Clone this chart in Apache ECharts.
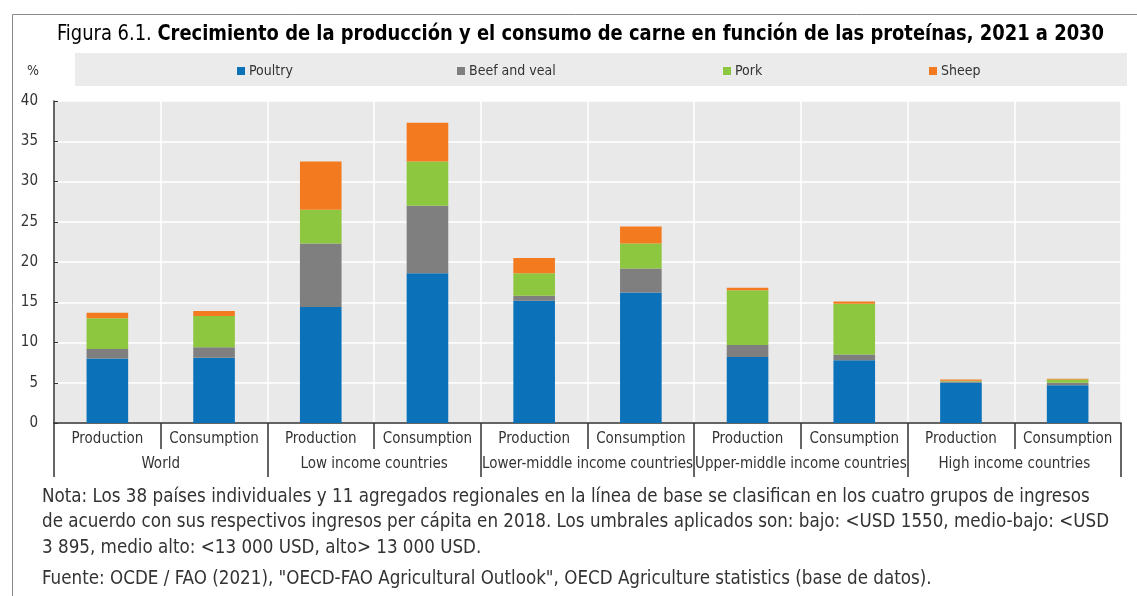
<!DOCTYPE html>
<html>
<head>
<meta charset="utf-8">
<script src="https://cdn.jsdelivr.net/npm/echarts@6/dist/echarts.min.js"></script>
<style>
html,body{margin:0;padding:0;background:#fff;}
#c{width:1137px;height:596px;}
</style>
</head>
<body>
<div id="c"></div>
<script>
// ---- data ----
var categories = ['Production','Consumption','Production','Consumption','Production','Consumption','Production','Consumption','Production','Consumption'];
var groups = ['World','Low income countries','Lower-middle income countries','Upper-middle income countries','High income countries'];
var seriesNames = ['Poultry','Beef and veal','Pork','Sheep'];
var poultry = [8.0, 8.1, 14.4, 18.6, 15.2, 16.2, 8.2, 7.8, 5.0, 4.7];
var beef    = [1.2, 1.3, 7.9, 8.4, 0.6, 3.0, 1.5, 0.7, 0.15, 0.3];
var pork    = [3.8, 3.9, 4.2, 5.5, 2.8, 3.1, 6.8, 6.3, 0.1, 0.4];
var sheep   = [0.7, 0.6, 6.0, 4.8, 1.9, 2.1, 0.3, 0.3, 0.15, 0.1];
var yTicks = [0,5,10,15,20,25,30,35,40];
var titleNormal = 'Figura 6.1. ';
var titleBold = 'Crecimiento de la producción y el consumo de carne en función de las proteínas, 2021 a 2030';
var noteLines = [
  'Nota: Los 38 países individuales y 11 agregados regionales en la línea de base se clasifican en los cuatro grupos de ingresos',
  'de acuerdo con sus respectivos ingresos per cápita en 2018. Los umbrales aplicados son: bajo: <USD 1550, medio-bajo: <USD',
  '3 895, medio alto: <13 000 USD, alto> 13 000 USD.'
];
var sourceLine = 'Fuente: OCDE / FAO (2021), "OECD-FAO Agricultural Outlook", OECD Agriculture statistics (base de datos).';

// ---- styling ----
var FONT = '"DejaVu Sans Condensed", "Liberation Sans Narrow", sans-serif';
var colors = ['#0b72ba', '#7f7f7f', '#8dc63f', '#f47a20'];
var values = [poultry, beef, pork, sheep];
var legendLeft = [237, 457, 723, 929];

var chart = echarts.init(document.getElementById('c'), null, {renderer:'canvas'});

var legends = seriesNames.map(function(n, i){
  return {
    data:[n], left: legendLeft[i], top: 64, icon:'rect', itemWidth:8, itemHeight:8,
    padding:0, textStyle:{fontFamily:FONT, fontSize:14, color:'#333', padding:[0,0,0,-1]},
    selectedMode:false
  };
});

var series = seriesNames.map(function(n, i){
  return {
    name:n, type:'bar', stack:'total', data: values[i], barWidth:'39%',
    itemStyle:{color: colors[i]}, xAxisIndex:0, yAxisIndex:0
  };
});

var graphics = [
  {type:'rect', shape:{x:12.5, y:14.5, width:1200, height:700}, style:{fill:'none', stroke:'#8a8a8a', lineWidth:1}, z:-10},
  {type:'rect', shape:{x:75, y:53, width:1052, height:33}, style:{fill:'#ebebeb'}, z:-10},
  {type:'text', x:27, y:71, style:{text:'%', font:'14px ' + FONT, fill:'#333', textVerticalAlign:'middle'}},
  {type:'text', x:57, y:34, scaleX:0.905, style:{
    text:'{a|' + titleNormal + '}{b|' + titleBold + '}',
    rich:{a:{fontFamily:FONT, fontSize:22, color:'#333'}, b:{fontFamily:FONT, fontSize:22, fontWeight:'bold', color:'#111'}},
    verticalAlign:'middle'
  }}
];
var noteY = [497, 522, 548];
noteLines.forEach(function(t, i){
  graphics.push({type:'text', x:42, y:noteY[i], scaleX:0.98, style:{text:t, font:'19px ' + FONT, fill:'#333', textVerticalAlign:'middle'}});
});
graphics.push({type:'text', x:42, y:579, scaleX:0.98, style:{text:sourceLine, font:'19px ' + FONT, fill:'#333', textVerticalAlign:'middle'}});

var option = {
  animation:false,
  backgroundColor:'#fff',
  legend: legends,
  grid:{left:54, right:16, top:101, bottom:173, show:true, backgroundColor:'#e9e9e9', borderWidth:0, containLabel:false},
  xAxis:[
    {type:'category', data:categories, position:'bottom',
     axisLine:{show:true, lineStyle:{color:'#333', width:1.5}},
     axisTick:{show:true, interval:0, length:26, lineStyle:{color:'#333', width:1.5}},
     axisLabel:{interval:0, margin:9, fontFamily:FONT, fontSize:15, color:'#333'},
     splitLine:{show:true, interval:0, lineStyle:{color:'#ffffff', width:1.5}}
    },
    {type:'category', data:groups, position:'bottom', offset:0,
     axisLine:{show:false},
     axisTick:{show:true, interval:0, length:54, lineStyle:{color:'#333', width:1.5}},
     axisLabel:{interval:0, margin:34, fontFamily:FONT, fontSize:15, color:'#333'},
     splitLine:{show:false}
    }
  ],
  yAxis:{type:'value', min:yTicks[0], max:yTicks[yTicks.length-1], interval:5,
    axisLine:{show:true, lineStyle:{color:'#333', width:1.5}},
    axisTick:{show:true, inside:true, length:4, lineStyle:{color:'#333'}},
    axisLabel:{margin:16, fontFamily:FONT, fontSize:15, color:'#333'},
    splitLine:{show:true, lineStyle:{color:'#ffffff', width:1.5}}
  },
  series: series,
  graphic: graphics
};
chart.setOption(option);
</script>
</body>
</html>
